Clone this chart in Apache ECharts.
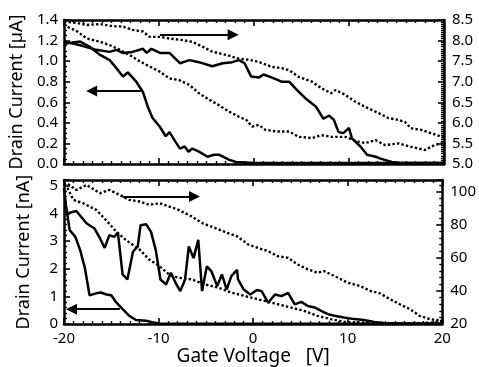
<!DOCTYPE html>
<html>
<head>
<meta charset="utf-8">
<script src="https://cdn.jsdelivr.net/npm/echarts@6/dist/echarts.min.js"></script>
<style>
  html, body { margin: 0; padding: 0; background: #fff; }
  #chart { width: 479px; height: 367px; }
</style>
</head>
<body>
<div id="chart"></div>
<script>
// x ticks of the gate voltage axis
var xTicks = [-20, -10, 0, 10, 20];

// top panel, left axis [µA]
var topFast = [[-20,1.17],[-18.3,1.19],[-17.3,1.14],[-16.2,1.06],[-15.2,1.01],[-14.3,0.91],[-13.8,0.85],[-13.3,0.89],[-12.4,0.80],[-11.7,0.70],[-11.2,0.56],[-10.7,0.45],[-9.9,0.36],[-9.3,0.27],[-8.9,0.31],[-8.3,0.22],[-7.8,0.15],[-7.3,0.17],[-6.9,0.12],[-6.5,0.15],[-5.8,0.12],[-4.9,0.07],[-4.2,0.09],[-3.7,0.09],[-2.6,0.04],[-1.9,0.02],[0,0.01],[5,0.01],[10,0.01],[15,0.01],[20,0.01]];
var topSlow = [[-20,1.19],[-18.5,1.16],[-16.6,1.11],[-15.2,1.09],[-14.5,1.11],[-13.8,1.08],[-12.8,1.09],[-11.7,1.12],[-11.3,1.08],[-10.8,1.12],[-9.9,1.08],[-8.9,1.08],[-7.8,0.98],[-6.8,1.01],[-5.8,0.99],[-4.4,0.95],[-3.3,0.98],[-2.3,0.99],[-1.6,1.01],[-1.0,0.98],[-0.3,0.85],[0.5,0.84],[1.0,0.87],[1.9,0.84],[2.9,0.80],[3.7,0.80],[4.5,0.72],[5.4,0.64],[6.5,0.56],[7.3,0.44],[7.9,0.47],[8.4,0.43],[8.9,0.31],[9.4,0.30],[10.0,0.35],[10.3,0.25],[11.2,0.17],[11.9,0.09],[12.8,0.07],[13.4,0.05],[14.5,0.02],[15.5,0.01],[20,0.01]];
// top panel, right axis
var topDotA = [[-20,8.46],[-18.7,8.43],[-17.6,8.38],[-16.2,8.40],[-14.9,8.35],[-13.8,8.34],[-12.8,8.26],[-11.7,8.22],[-11,8.09],[-9.9,8.09],[-8.9,8.05],[-7.5,8.01],[-6.5,7.97],[-5.4,7.85],[-4.4,7.73],[-2.9,7.65],[-1.8,7.57],[-0.5,7.53],[0.5,7.48],[1.9,7.36],[2.9,7.33],[3.7,7.28],[4.7,7.12],[6.1,7.0],[7.1,6.84],[8.1,6.72],[8.6,6.80],[9.6,6.68],[10.7,6.51],[11.7,6.39],[13.1,6.24],[14.1,6.12],[15.2,6.07],[15.9,6.02],[16.5,5.87],[17.6,5.83],[18.6,5.75],[20,5.64]];
var topDotB = [[-20,8.40],[-19.7,8.34],[-18.6,8.22],[-17.6,8.05],[-16.2,7.97],[-15.2,7.89],[-14.1,7.77],[-13.1,7.65],[-12,7.49],[-11,7.37],[-9.9,7.24],[-8.9,7.08],[-7.9,7.04],[-6.8,6.92],[-5.8,6.72],[-4.7,6.56],[-3.7,6.43],[-2.6,6.27],[-1.6,6.15],[-0.8,6.07],[-0.2,5.91],[0.5,5.95],[1.2,5.83],[2.3,5.79],[3.7,5.79],[4.7,5.66],[6.1,5.63],[7.1,5.70],[8.2,5.66],[9.6,5.66],[11,5.54],[11.7,5.51],[12.8,5.58],[13.8,5.46],[15.2,5.50],[16.5,5.42],[18,5.34],[19,5.46],[20,5.52]];

// bottom panel, left axis [nA]
var botFast = [[-20,4.9],[-19.8,4.3],[-19.4,3.39],[-18.8,3.15],[-18.3,2.68],[-17.8,2.04],[-17.3,1.04],[-16.6,1.11],[-16.1,1.14],[-15.5,1.07],[-15,1.04],[-14.5,0.79],[-13.8,0.54],[-13.1,0.30],[-12.4,0.15],[-11.3,0.12],[-10.7,0.07],[-9.9,0.02],[0,0.01],[20,0.01]];
var botNoisy = [[-20,4.0],[-19.7,3.99],[-18.7,4.08],[-17.6,3.63],[-16.8,3.46],[-16.2,3.10],[-15.7,2.75],[-15.2,3.21],[-14.7,3.15],[-14.3,3.30],[-13.8,1.79],[-13.3,1.61],[-12.7,2.62],[-12.2,2.80],[-11.9,3.57],[-11.3,3.60],[-10.8,3.33],[-10.3,2.68],[-9.8,1.61],[-9.2,1.43],[-8.7,1.85],[-8.2,1.49],[-7.7,1.19],[-7.2,1.61],[-6.8,2.80],[-6.3,2.38],[-5.8,3.04],[-5.4,1.19],[-4.9,2.08],[-4.4,1.90],[-3.8,1.37],[-3.3,1.79],[-2.8,1.25],[-2.3,1.73],[-1.7,1.96],[-1.6,1.61],[-1.0,1.25],[-0.3,1.07],[0.4,1.23],[0.9,1.19],[1.6,0.77],[2.3,1.07],[3.0,1.01],[3.7,1.13],[4.4,0.71],[5.1,0.80],[5.8,0.65],[6.5,0.60],[7.2,0.48],[7.9,0.36],[8.6,0.30],[9.6,0.24],[10.7,0.18],[11.7,0.15],[12.8,0.08],[13.8,0.04],[16,0.02],[20,0.02]];
// bottom panel, right axis
var botDotA = [[-20,104],[-19.7,105],[-18.7,101],[-17.6,104],[-16.2,99],[-15.2,101],[-14.1,98],[-13.1,95],[-12,94],[-11,92],[-9.9,93],[-8.9,91],[-7.9,89],[-6.5,85],[-5.4,81],[-4,78],[-2.7,75],[-1.7,73],[-0.5,68],[0.5,66],[1.6,64],[2.6,61],[3.7,60],[4.7,56],[5.8,53],[6.8,51],[7.5,52],[8.6,49],[10,45],[11.3,43],[12.4,40],[13.4,38.6],[14.5,35],[15.5,32],[16.6,29],[17.6,25],[18.7,23],[20,22]];
var botDotB = [[-20,104],[-19.7,103],[-19,95],[-18,93],[-16.6,89],[-15.6,83],[-14.5,76],[-13.5,71],[-12,65],[-11,59],[-9.9,55],[-8.9,50],[-7.9,48],[-6.5,47],[-5.1,44],[-3.7,42],[-2.3,39],[-1.6,38],[-0.2,36],[1.2,34],[2.6,32],[4,30],[5.4,28],[6.8,25],[8.2,23],[9.6,21.4],[11,21],[14,20.6],[17,20.5],[19,21],[20,22]];

// arrows: [from, to] in data units
var topArrowRight = [[-9.9, 8.14], [-2.2, 8.14]];
var topArrowLeft = [[-11.7, 0.71], [-17.1, 0.71]];
var botArrowRight = [[-13.8, 97], [-6.2, 97]];
var botArrowLeft = [[-14.1, 0.54], [-19.2, 0.54]];

var font = 'Noto Sans';
var chart = echarts.init(document.getElementById('chart'));

function xAxisDef(grid, pos, labels) {
    return {
        type: 'value', gridIndex: grid, position: pos, min: -20, max: 20, interval: 10,
        axisLine: { show: true, onZero: false, lineStyle: { color: '#000', width: 2.5 } },
        axisTick: { show: true, inside: true, length: 6, lineStyle: { color: '#000', width: 1.6 } },
        minorTick: { show: true, splitNumber: 10, length: 3, lineStyle: { color: '#000', width: 1.4 } },
        splitLine: { show: false },
        axisLabel: { show: labels, color: '#000', fontSize: 15, fontFamily: font, margin: 7,
            formatter: function (v) { return xTicks.indexOf(v) >= 0 ? String(v) : ''; } }
    };
}

function yAxisDef(grid, pos, min, max, interval, minorSplit, fmt, name) {
    return {
        type: 'value', gridIndex: grid, position: pos, min: min, max: max, interval: interval,
        name: name || '', nameLocation: 'middle', nameGap: 31,
        nameTextStyle: { color: '#000', fontSize: 18, fontFamily: font },
        axisLine: { show: true, onZero: false, lineStyle: { color: '#000', width: 2.5 } },
        axisTick: { show: true, inside: true, length: 6, lineStyle: { color: '#000', width: 1.6 } },
        minorTick: { show: true, splitNumber: minorSplit, length: 3, lineStyle: { color: '#000', width: 1.4 } },
        splitLine: { show: false },
        axisLabel: { color: '#000', fontSize: 15, fontFamily: font, margin: pos === 'left' ? 6 : 8, formatter: fmt }
    };
}

function solid(data, xi, yi) {
    return { type: 'line', data: data, xAxisIndex: xi, yAxisIndex: yi, showSymbol: false,
        lineStyle: { color: '#000', width: 2.5 }, silent: true, animation: false };
}
function dotted(data, xi, yi) {
    return { type: 'line', data: data, xAxisIndex: xi, yAxisIndex: yi, showSymbol: false,
        lineStyle: { color: '#000', width: 2.4, type: [2.4, 2.2] }, silent: true, animation: false };
}
function arrow(pts, xi, yi) {
    return { type: 'line', data: [], xAxisIndex: xi, yAxisIndex: yi, silent: true, animation: false,
        markLine: {
            silent: true, animation: false, symbol: ['none', 'triangle'], symbolSize: 11,
            label: { show: false },
            lineStyle: { color: '#000', width: 2, type: 'solid' },
            itemStyle: { color: '#000' },
            data: [[{ coord: pts[0] }, { coord: pts[1] }]]
        } };
}

var oneDec = function (v) { return v.toFixed(1); };

option = {
    animation: false,
    grid: [
        { left: 64, top: 20, width: 380, height: 144 },
        { left: 64, top: 180, width: 380, height: 145 }
    ],
    xAxis: [
        xAxisDef(0, 'bottom', false),
        xAxisDef(0, 'top', false),
        Object.assign(xAxisDef(1, 'bottom', true), {
            name: 'Gate Voltage   [V]', nameLocation: 'middle', nameGap: 20,
            nameTextStyle: { color: '#000', fontSize: 19, fontFamily: font }
        }),
        xAxisDef(1, 'top', false)
    ],
    yAxis: [
        yAxisDef(0, 'left', 0, 1.4, 0.2, 4, oneDec, 'Drain Current [\u00b5A]'),
        yAxisDef(0, 'right', 5, 8.5, 0.5, 10, oneDec),
        yAxisDef(1, 'left', 0, 5.2, 1, 5, function (v) { return Number.isInteger(v) ? String(v) : ''; }, 'Drain Current [nA]'),
        yAxisDef(1, 'right', 20, 107, 20, 5, function (v) { return v % 20 === 0 ? String(v) : ''; })
    ],
    series: [
        solid(topFast, 0, 0),
        solid(topSlow, 0, 0),
        dotted(topDotA, 0, 1),
        dotted(topDotB, 0, 1),
        solid(botFast, 2, 2),
        solid(botNoisy, 2, 2),
        dotted(botDotA, 2, 3),
        dotted(botDotB, 2, 3),
        arrow(topArrowRight, 0, 1),
        arrow(topArrowLeft, 0, 0),
        arrow(botArrowRight, 2, 3),
        arrow(botArrowLeft, 2, 2)
    ]
};

chart.setOption(option);
</script>
</body>
</html>
